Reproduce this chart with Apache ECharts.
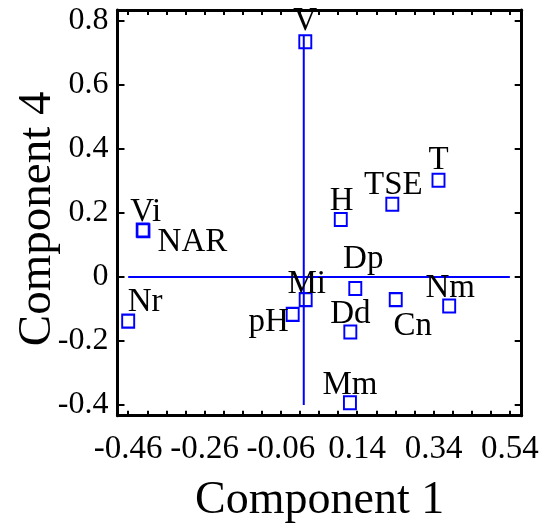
<!DOCTYPE html>
<html>
<head>
<meta charset="utf-8">
<script src="https://cdn.jsdelivr.net/npm/echarts@6/dist/echarts.min.js"></script>
<style>html,body{margin:0;padding:0;background:#fff}#c{width:544px;height:530px}</style>
</head>
<body>
<div id="c"></div>
<script>
// ---- data ----
var names = ['V','Vi','NAR','H','TSE','T','Dp','Mi','Nr','pH','Dd','Cn','Nm','Mm'];
var comp1 = [0.004,-0.422,-0.420,0.097,0.232,0.353,0.135,0.005,-0.460,-0.029,0.122,0.241,0.381,0.121];
var comp4 = [0.734,0.146,0.144,0.179,0.227,0.302,-0.036,-0.071,-0.138,-0.117,-0.172,-0.071,-0.091,-0.393];
var xTickLabels = [-0.46,-0.26,-0.06,0.14,0.34,0.54];
var xMinorTicks = [-0.46,-0.41,-0.36,-0.31,-0.26,-0.21,-0.16,-0.11,-0.06,-0.01,0.04,0.09,0.14,0.19,0.24,0.29,0.34,0.39,0.44,0.49,0.54];
var yTickLabels = [-0.4,-0.2,0,0.2,0.4,0.6,0.8];
var vLine = [[0,-0.4],[0,0.755]];
var hLine = [[-0.46,0],[0.54,0]];
var xName = 'Component 1';
var yName = 'Component 4';

// ---- style (label offsets, px) ----
var labelOffsets = {
  V:[0,-21], Vi:[3,-18], NAR:[49,12], H:[1,-18], TSE:[1,-19], T:[0,-20],
  Dp:[8,-29], Mi:[1,-15], Nr:[17,-19], pH:[-24,8], Dd:[0,-18], Cn:[17,27],
  Nm:[1,-18], Mm:[0,-17]
};

var FONT = 'Liberation Serif';
var XMIN = -0.488, XMAX = 0.571, YMIN = -0.4334, YMAX = 0.8334;

var pts = names.map(function(n,i){
  return {name:n, value:[comp1[i], comp4[i]], label:{offset: labelOffsets[n]}};
});

function xfmt(v){ return (Math.round(v*100)/100).toFixed(2); }
function yfmt(v){ var r = Math.round(v*10)/10; return r === 0 ? '0' : r.toFixed(1); }

var axisLineStyle = {show:true, onZero:false, lineStyle:{color:'#000', width:3}};

var chart = echarts.init(document.getElementById('c'), null, {renderer:'canvas'});
chart.setOption({
  animation:false,
  backgroundColor:'#fff',
  grid:{left:117.5, right:22.3, top:10, bottom:114.3, containLabel:false, outerBoundsMode:'none'},
  xAxis:[{
    type:'value', position:'bottom', min:XMIN, max:XMAX,
    axisLine:axisLineStyle,
    axisTick:{show:true, inside:true, length:5, customValues:xMinorTicks, lineStyle:{color:'#000', width:2}},
    axisLabel:{show:true, customValues:xTickLabels, formatter:xfmt, margin:17, color:'#000', fontFamily:FONT, fontSize:33, hideOverlap:false},
    splitLine:{show:false},
    name:xName, nameLocation:'middle', nameGap:62, nameMoveOverlap:false,
    nameTextStyle:{color:'#000', fontFamily:FONT, fontSize:46}
  },{
    type:'value', position:'top', min:XMIN, max:XMAX,
    axisLine:axisLineStyle,
    axisTick:{show:true, inside:true, length:5, customValues:xMinorTicks, lineStyle:{color:'#000', width:2}},
    axisLabel:{show:false}, splitLine:{show:false}
  }],
  yAxis:[{
    type:'value', position:'left', min:YMIN, max:YMAX,
    axisLine:axisLineStyle,
    axisTick:{show:true, inside:true, length:7, customValues:yTickLabels, lineStyle:{color:'#000', width:2}},
    axisLabel:{show:true, customValues:yTickLabels, formatter:yfmt, margin:9, color:'#000', fontFamily:FONT, fontSize:32, hideOverlap:false},
    splitLine:{show:false},
    name:yName, nameLocation:'middle', nameGap:56, nameRotate:90, nameMoveOverlap:false,
    nameTextStyle:{color:'#000', fontFamily:FONT, fontSize:47, padding:[0,12,0,0]}
  },{
    type:'value', position:'right', min:YMIN, max:YMAX,
    axisLine:axisLineStyle,
    axisTick:{show:true, inside:true, length:7, customValues:yTickLabels, lineStyle:{color:'#000', width:2}},
    axisLabel:{show:false}, splitLine:{show:false}
  }],
  series:[
    {type:'line', data:vLine, symbol:'none', lineStyle:{color:'#0000ff', width:2}, silent:true, z:2},
    {type:'line', data:hLine, symbol:'none', lineStyle:{color:'#0000ff', width:2}, silent:true, z:2},
    {type:'scatter', data:pts, symbol:'rect', symbolSize:[12,13], z:3,
     itemStyle:{color:'rgba(0,0,0,0)', borderColor:'#0000ff', borderWidth:2, opacity:1},
     label:{show:true, position:'inside', formatter:'{b}', color:'#000', fontFamily:FONT, fontSize:33, align:'center', verticalAlign:'middle'}
    }
  ]
});
</script>
</body>
</html>
